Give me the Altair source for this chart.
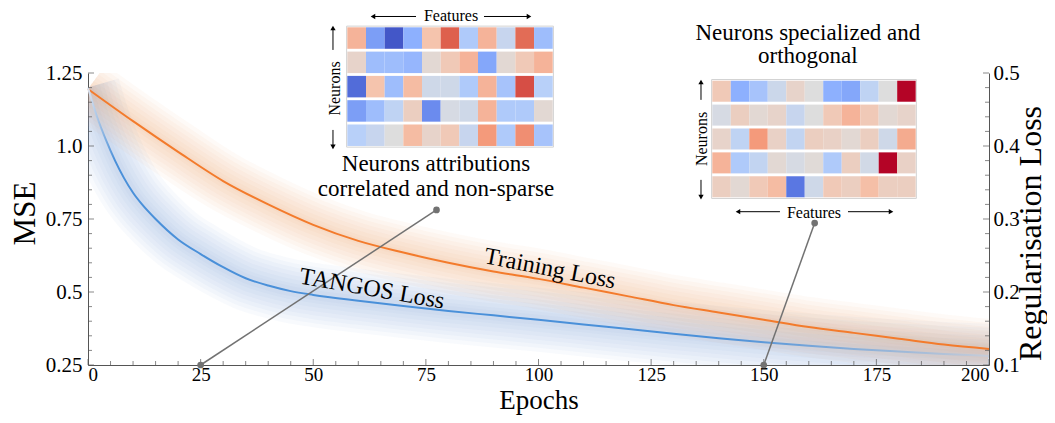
import altair as alt
import pandas as pd

# ---------------- data ----------------
train_epochs = [0, 10, 20, 30, 40, 50, 60, 70, 80, 90, 100, 110, 120, 130, 140, 150, 160, 170, 180, 190, 200]
train_mse = [1.195, 1.085, 0.98, 0.88, 0.80, 0.73, 0.675, 0.635, 0.60, 0.57, 0.545, 0.515, 0.485, 0.455,
             0.43, 0.405, 0.38, 0.36, 0.34, 0.32, 0.305]

tangos_epochs = [0, 2, 4, 6, 8, 10, 12, 15, 20, 25, 30, 35, 40, 45, 50, 60, 70, 80, 90, 100, 110, 120,
                 130, 140, 150, 160, 170, 180, 190, 200]
tangos_reg = [0.480, 0.440, 0.408, 0.380, 0.356, 0.336, 0.320, 0.300, 0.272, 0.252, 0.234, 0.2188, 0.2088,
              0.2012, 0.196, 0.188, 0.1808, 0.174, 0.168, 0.162, 0.1556, 0.1492, 0.1428, 0.1368, 0.1312,
              0.1264, 0.122, 0.1184, 0.1152, 0.1124]

x_ticks = [0, 25, 50, 75, 100, 125, 150, 175, 200]
x_minor = [e for e in range(0, 201, 5) if e % 25 != 0]
mse_ticks = [0.25, 0.5, 0.75, 1.0, 1.25]
mse_minor = [round(0.25 + 0.05 * i, 2) for i in range(21) if i % 5 != 0]
reg_ticks = [0.1, 0.2, 0.3, 0.4, 0.5]
reg_minor = [round(0.1 + 0.02 * i, 2) for i in range(21) if i % 5 != 0]

heat_before = [
    [0.35, -0.6, -0.95, -0.5, 0.25, 0.75, -0.3, 0.35, -0.15, 0.7, -0.4],
    [0.1, -0.4, -0.4, -0.45, 0.05, 0.2, 0.35, -0.55, 0.05, 0.2, 0.35],
    [-0.85, 0.25, -0.4, 0.3, -0.1, -0.1, -0.3, 0.35, -0.35, 0.8, -0.25],
    [-0.6, -0.4, -0.2, 0.15, -0.7, -0.05, -0.1, 0.35, -0.3, -0.3, 0.05],
    [-0.25, -0.15, 0.0, 0.3, 0.1, 0.2, -0.15, 0.5, -0.3, 0.55, -0.35],
]
heat_after = [
    [0.2, -0.5, -0.35, -0.12, 0.1, 0.0, -0.5, -0.55, -0.2, 0.0, 1.0],
    [-0.05, 0.15, 0.05, 0.1, -0.15, 0.0, 0.2, 0.35, 0.2, 0.05, 0.1],
    [0.1, -0.2, 0.5, 0.12, -0.18, 0.15, 0.12, 0.05, 0.15, -0.1, 0.4],
    [0.35, -0.3, -0.18, 0.05, -0.05, 0.03, -0.3, 0.15, -0.08, 1.0, 0.12],
    [0.15, 0.05, 0.2, 0.3, -0.8, -0.1, 0.2, 0.15, 0.28, 0.15, 0.15],
]

snapshot_epochs = [25, 150]

# ---------------- layout / style constants ----------------
FONT = "Liberation Serif"
W, H = 901, 292
X_DOMAIN = [0, 200]
MSE_DOMAIN = [0.25, 1.25]
REG_DOMAIN = [0.1, 0.5]
ORANGE = "#f37b2c"
BLUE = "#4a90d9"
AXIS_GREY = "#555555"
LINK_GREY = "#727272"

xs = alt.Scale(domain=X_DOMAIN, nice=False, zero=False)
ys = alt.Scale(domain=MSE_DOMAIN, nice=False, zero=False)
rs = alt.Scale(domain=REG_DOMAIN, nice=False, zero=False)

coolwarm = alt.Scale(
    domain=[-1, -0.75, -0.5, -0.25, 0, 0.25, 0.5, 0.75, 1],
    range=["#3b4cc0", "#6282ea", "#8db0fe", "#b8d0f9", "#dddddd", "#f5c4ad", "#f49a7b", "#de604d", "#b40426"],
    interpolate="rgb",
)

# inset placement (in chart data units): left, column width, top, row step, row height
INSET_BEFORE = dict(x0=57.56, cw=4.145, top=1.4065, rs=0.0832, rh=0.0736)
INSET_AFTER = dict(x0=138.58, cw=4.104, top=1.2236, rs=0.0818, rh=0.0720)

train_df = pd.DataFrame({"epoch": train_epochs, "mse": train_mse})
tangos_df = pd.DataFrame({"epoch": tangos_epochs, "reg": tangos_reg})


def X(field="x"):
    return alt.X(f"{field}:Q", scale=xs, axis=None)


def Y(field="y"):
    return alt.Y(f"{field}:Q", scale=ys, axis=None)


def R(field="reg"):
    return alt.Y(f"{field}:Q", scale=rs, axis=None)


# ---------------- axis carriers (invisible lines that own the axes) ----------------
left_axes = alt.Chart(train_df).mark_line(opacity=0).encode(
    x=alt.X("epoch:Q", scale=xs, axis=alt.Axis(
        values=x_ticks, title="Epochs", orient="bottom", ticks=False, labelPadding=0, labelFontSize=19,
        titleY=43, titleBaseline="alphabetic", titleFontSize=27)),
    y=alt.Y("mse:Q", scale=ys, axis=alt.Axis(
        values=mse_ticks, title="MSE", orient="left", ticks=False, labelPadding=6,
        labelExpr="datum.value == 1 ? '1.0' : '' + datum.value",
        titleAngle=270, titleX=-54, titleY=140, titleAlign="center", titleBaseline="alphabetic",
        titleFontSize=31)),
)
right_axis = alt.Chart(tangos_df).mark_line(opacity=0).encode(
    x=X("epoch"),
    y=alt.Y("reg:Q", scale=rs, axis=alt.Axis(
        values=reg_ticks, labelExpr="'' + datum.value", title="Regularisation Loss", orient="right",
        ticks=False, labelPadding=4, titleAngle=270, titleX=51, titleY=160, titleAlign="center",
        titleBaseline="alphabetic", titleFontSize=32)),
)

# ---------------- glow bands ----------------
glow_widths = [60, 52, 44, 36, 28, 20, 12, 6]
orange_bands = [
    alt.Chart(train_df).mark_line(color="#f39a5a", strokeWidth=w, opacity=0.05, strokeCap="butt",
                                  strokeJoin="round", interpolate="monotone", clip=True)
    .encode(x=X("epoch"), y=Y("mse"))
    for w in glow_widths
]
blue_bands = [
    alt.Chart(tangos_df).mark_line(color="#7f9fdc", strokeWidth=w + 4, opacity=0.05, strokeCap="butt",
                                   strokeJoin="round", interpolate="monotone", clip=True)
    .encode(x=X("epoch"), y=R("reg"))
    for w in glow_widths
]

# ---------------- main lines ----------------
orange_line = alt.Chart(train_df).mark_line(color=ORANGE, strokeWidth=2, interpolate="monotone").encode(
    x=X("epoch"), y=Y("mse"))

blue_line = alt.Chart(tangos_df).mark_line(
    strokeWidth=2, interpolate="monotone",
    stroke=alt.LinearGradient(
        gradient="linear", x1=0, x2=1, y1=0, y2=0,
        stops=[alt.GradientStop(color="#dde3ee", offset=0),
               alt.GradientStop(color=BLUE, offset=0.03),
               alt.GradientStop(color=BLUE, offset=0.7),
               alt.GradientStop(color="#c6ccd8", offset=1)]),
).encode(x=X("epoch"), y=R("reg"))


# ---------------- inward tick marks ----------------
def ticks_x(vals, size):
    df = pd.DataFrame({"x": vals, "y": MSE_DOMAIN[0]})
    return alt.Chart(df).mark_tick(orient="vertical", size=size, thickness=1, color=AXIS_GREY,
                                   yOffset=-size / 2).encode(x=X(), y=Y())


def ticks_y(vals, size):
    df = pd.DataFrame({"x": X_DOMAIN[0], "y": vals})
    return alt.Chart(df).mark_tick(orient="horizontal", size=size, thickness=1, color=AXIS_GREY,
                                   xOffset=size / 2).encode(x=X(), y=Y())


def ticks_r(vals, size):
    df = pd.DataFrame({"x": X_DOMAIN[1], "reg": vals})
    return alt.Chart(df).mark_tick(orient="horizontal", size=size, thickness=1, color=AXIS_GREY,
                                   xOffset=-size / 2).encode(x=X(), y=R("reg"))


# ---------------- heat-map insets ----------------
def inset(values, g):
    rows = []
    for r, row in enumerate(values):
        for c, v in enumerate(row):
            rows.append({
                "x": g["x0"] + c * g["cw"], "x2": g["x0"] + (c + 1) * g["cw"],
                "y": g["top"] - r * g["rs"], "y2": g["top"] - r * g["rs"] - g["rh"], "val": v,
            })
    cells = pd.DataFrame(rows)
    ncol = len(values[0])
    nrow = len(values)
    frame_df = pd.DataFrame([{
        "x": g["x0"] - 0.15, "x2": g["x0"] + ncol * g["cw"] + 0.15,
        "y": g["top"] + 0.004, "y2": g["top"] - (nrow - 1) * g["rs"] - g["rh"] - 0.004,
    }])
    frame = alt.Chart(frame_df).mark_rect(fill="white", stroke="#d2d2d2", strokeWidth=1).encode(
        x=X(), x2="x2:Q", y=Y(), y2="y2:Q")
    rects = alt.Chart(cells).mark_rect().encode(
        x=X(), x2="x2:Q", y=Y(), y2="y2:Q",
        color=alt.Color("val:Q", scale=coolwarm, legend=None))
    return [frame, rects]


# ---------------- connectors ----------------
link_df = pd.DataFrame({
    "x": snapshot_epochs, "y": [MSE_DOMAIN[0]] * 2,
    "x2": [77.36, 161.3], "y2": [0.781, 0.736],
})
link_rules = alt.Chart(link_df).mark_rule(color=LINK_GREY, strokeWidth=1.5).encode(
    x=X(), y=Y(), x2="x2:Q", y2="y2:Q")
link_pts_df = pd.concat([
    link_df[["x", "y"]],
    link_df[["x2", "y2"]].rename(columns={"x2": "x", "y2": "y"}),
])
link_pts = alt.Chart(link_pts_df).mark_point(filled=True, color=LINK_GREY, size=45, opacity=1).encode(
    x=X(), y=Y())

# ---------------- arrows around insets ----------------
arrow_df = pd.DataFrame([
    # tail x, tail y, head x, head y, head shape
    (72.81, 1.4435, 63.26, 1.4435, "triangle-left"),
    (87.90, 1.4435, 97.89, 1.4435, "triangle-right"),
    (54.38, 1.329, 54.38, 1.404, "triangle-up"),
    (54.38, 1.055, 54.38, 0.997, "triangle-down"),
    (153.6, 0.775, 144.28, 0.775, "triangle-left"),
    (168.7, 0.775, 178.25, 0.775, "triangle-right"),
    (136.07, 1.158, 136.07, 1.219, "triangle-up"),
    (136.07, 0.884, 136.07, 0.825, "triangle-down"),
], columns=["x", "y", "hx", "hy", "shape"])
arrow_rules = alt.Chart(arrow_df).mark_rule(color="black", strokeWidth=1).encode(
    x=X(), y=Y(), x2="hx:Q", y2="hy:Q")
arrow_heads = alt.Chart(arrow_df).mark_point(filled=True, color="black", size=28, opacity=1).encode(
    x=X("hx"), y=Y("hy"),
    shape=alt.Shape("shape:N", scale=None, legend=None))


# ---------------- texts ----------------
def texts(rows, **kw):
    df = pd.DataFrame(rows, columns=["x", "y", "t"])
    return alt.Chart(df).mark_text(font=FONT, color="black", **kw).encode(x=X(), y=Y(), text="t:N")


feat_txt = texts([(80.58, 1.4435, "Features"), (161.15, 0.772, "Features")], fontSize=16, baseline="middle")
neur_txt = texts([(54.8, 1.197, "Neurons"), (136.2, 1.024, "Neurons")], fontSize=16, baseline="middle",
                 angle=270)
note_txt = texts([
    (77.25, 0.914, "Neurons attributions"),
    (77.25, 0.829, "correlated and non-sparse"),
    (159.8, 1.363, "Neurons specialized and"),
    (159.8, 1.284, "orthogonal"),
], fontSize=23, baseline="alphabetic")
train_lbl = texts([(102.55, 0.579, "Training Loss")], fontSize=24, baseline="middle", angle=11)
tangos_lbl = texts([(63.04, 0.510, "TANGOS Loss")], fontSize=24, baseline="middle", angle=10)

chart = (
    alt.layer(
        left_axes, right_axis,
        *blue_bands, *orange_bands, orange_line, blue_line,
        ticks_x(x_ticks, 6), ticks_x(x_minor, 4), ticks_y(mse_ticks, 6), ticks_y(mse_minor, 4),
        ticks_r(reg_ticks, 6), ticks_r(reg_minor, 4),
        *inset(heat_before, INSET_BEFORE), *inset(heat_after, INSET_AFTER),
        link_rules, link_pts, arrow_rules, arrow_heads,
        feat_txt, neur_txt, note_txt, train_lbl, tangos_lbl,
    )
    .resolve_scale(x="independent", y="independent")
    .properties(width=W, height=H, padding={"left": 80, "top": 65, "right": 58, "bottom": 50},
                autosize=alt.AutoSizeParams(type="none"))
    .configure_view(stroke=None)
    .configure_axis(
        labelFont=FONT, labelFontSize=21, labelColor="black", titleFont=FONT, titleColor="black",
        titleFontWeight="normal", domainColor=AXIS_GREY, domainWidth=1, grid=False,
    )
)

chart.save("out.html", embed_options={"renderer": "svg", "actions": False})
